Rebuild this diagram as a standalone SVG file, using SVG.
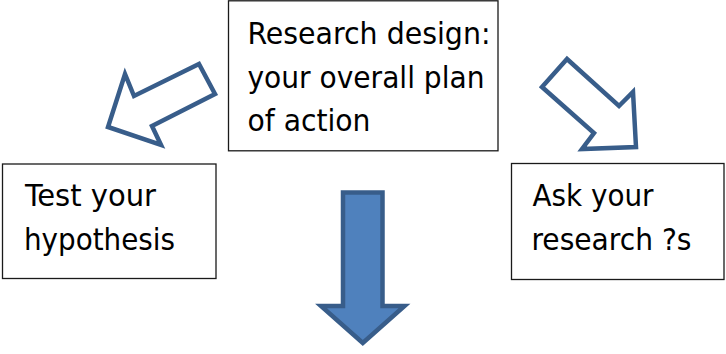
<svg xmlns="http://www.w3.org/2000/svg" width="726" height="354" viewBox="0 0 726 354">
  <style>
    .box { fill: #ffffff; stroke: #1a1a1a; stroke-width: 1.3; }
    .label { font-family: "DejaVu Sans Condensed", "DejaVu Sans", Verdana, sans-serif; font-size: 31px; fill: #000000; }
    .hollow { fill: #ffffff; stroke: #385d8a; stroke-width: 4.5; stroke-linejoin: miter; stroke-miterlimit: 10; }
    .solid { fill: #4f81bd; stroke: #385d8a; stroke-width: 4.5; stroke-linejoin: miter; stroke-miterlimit: 10; }
  </style>
  <rect width="726" height="354" fill="#ffffff"/>

  <g id="connectors">
    <!-- hollow arrow pointing down-left -->
    <path class="hollow" d="M199,64 L215,94 L152,126 L161,145 L108,127 L125,74 L134,96 Z"/>
    <!-- hollow arrow pointing down-right -->
    <path class="hollow" d="M567,59 L542,87 L594,133 L582,149 L636,147 L633,92 L619,106 Z"/>
    <!-- solid arrow pointing down -->
    <path class="solid" d="M343,192.5 H382.5 V306 H404.5 L362.8,343 L321,306 H343 Z"/>
  </g>

  <g id="node-design">
    <rect class="box" x="228.5" y="0.8" width="269.5" height="150"/>
    <text class="label" x="247.5" y="44" textLength="243" lengthAdjust="spacingAndGlyphs">Research design:</text>
    <text class="label" x="247.5" y="87.5" textLength="237" lengthAdjust="spacingAndGlyphs">your overall plan</text>
    <text class="label" x="247.5" y="131" textLength="123" lengthAdjust="spacingAndGlyphs">of action</text>
  </g>

  <g id="node-test">
    <rect class="box" x="2.5" y="164" width="213.5" height="114.5"/>
    <text class="label" x="25" y="206" textLength="131" lengthAdjust="spacingAndGlyphs">Test your</text>
    <text class="label" x="24" y="250" textLength="151" lengthAdjust="spacingAndGlyphs">hypothesis</text>
  </g>

  <g id="node-ask">
    <rect class="box" x="511.5" y="163.5" width="212.5" height="116"/>
    <text class="label" x="532.5" y="206" textLength="121" lengthAdjust="spacingAndGlyphs">Ask your</text>
    <text class="label" x="531.5" y="250" textLength="160" lengthAdjust="spacingAndGlyphs">research ?s</text>
  </g>
</svg>
